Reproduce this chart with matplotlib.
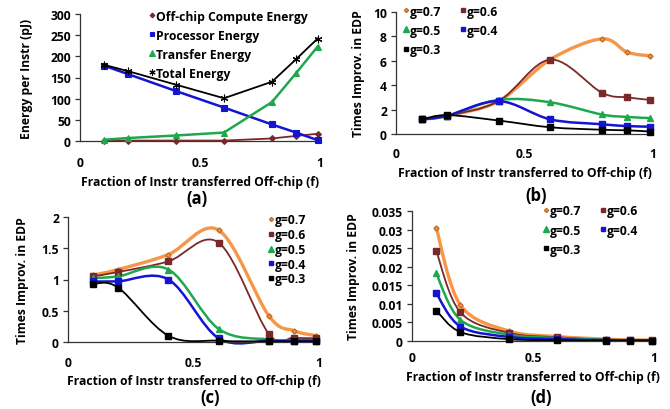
import matplotlib
matplotlib.use("Agg")
import matplotlib.pyplot as plt
from matplotlib.path import Path
from matplotlib.patches import PathPatch
from matplotlib.lines import Line2D

plt.rcParams["font.family"] = ["Open Sans", "DejaVu Sans"]
plt.rcParams["font.weight"] = "bold"

# ---- data -------------------------------------------------------------
f = [0.1, 0.2, 0.4, 0.6, 0.8, 0.9, 0.99]

# (a) energy per instruction (pJ)
offchip_compute = [1, 1, 1, 1, 6, 12, 17]
processor = [178, 158, 118, 79, 39, 20, 2]
transfer = [3, 7, 13, 20, 92, 160, 223]
total = [180, 165, 133, 101, 140, 193, 242]

g_labels = ["g=0.7", "g=0.6", "g=0.5", "g=0.4", "g=0.3"]

# (b) times improvement in EDP
edp_b = [
    [1.2, 1.5, 2.7, 6.1, 7.8, 6.7, 6.4],
    [1.2, 1.5, 2.7, 6.1, 3.4, 3.0, 2.8],
    [1.2, 1.5, 2.8, 2.6, 1.6, 1.4, 1.3],
    [1.2, 1.5, 2.7, 1.2, 0.8, 0.65, 0.6],
    [1.2, 1.55, 1.1, 0.55, 0.35, 0.3, 0.2],
]
# (c)
edp_c = [
    [1.07, 1.16, 1.40, 1.79, 0.42, 0.18, 0.10],
    [1.05, 1.12, 1.29, 1.59, 0.13, 0.07, 0.06],
    [1.02, 1.05, 1.16, 0.21, 0.04, 0.03, 0.03],
    [0.97, 0.97, 1.00, 0.06, 0.02, 0.02, 0.02],
    [0.93, 0.87, 0.10, 0.02, 0.01, 0.01, 0.01],
]
# (d)
edp_d = [
    [0.0305, 0.0097, 0.0027, 0.0012, 0.0005, 0.0003, 0.0003],
    [0.0243, 0.0077, 0.0022, 0.0010, 0.0004, 0.0003, 0.0002],
    [0.0182, 0.0057, 0.0017, 0.0008, 0.0003, 0.0002, 0.0002],
    [0.0129, 0.0039, 0.0011, 0.0005, 0.0002, 0.0002, 0.0001],
    [0.0082, 0.0024, 0.0005, 0.0002, 0.0001, 0.0001, 0.0001],
]

# ---- styles -----------------------------------------------------------
ORANGE = "#F79646"
BROWN = "#7A2828"
GREEN = "#1EA84E"
BLUE = "#1414D2"
BLACK = "#000000"
g_styles = [
    dict(color=ORANGE, marker="D", ms=2.6, lw=2.4, mec="#C0702A"),
    dict(color=BROWN, marker="s", ms=4.2, lw=1.3, mec=BROWN),
    dict(color=GREEN, marker="^", ms=4.6, lw=1.8, mec=GREEN),
    dict(color=BLUE, marker="s", ms=4.2, lw=1.8, mec=BLUE),
    dict(color=BLACK, marker="s", ms=4.2, lw=1.3, mec=BLACK),
]
FS = 8.7


def smooth(ax, x, y, color, lw):
    # Excel-like smoothed line: Catmull-Rom segments as cubic Beziers
    n = len(x)
    pts = list(zip(x, y))
    verts = [pts[0]]
    codes = [Path.MOVETO]
    for i in range(n - 1):
        p0 = pts[i - 1] if i > 0 else pts[i]
        p1, p2 = pts[i], pts[i + 1]
        p3 = pts[i + 2] if i + 2 < n else pts[i + 1]
        c1 = (p1[0] + (p2[0] - p0[0]) / 6, p1[1] + (p2[1] - p0[1]) / 6)
        c2 = (p2[0] - (p3[0] - p1[0]) / 6, p2[1] - (p3[1] - p1[1]) / 6)
        verts += [c1, c2, p2]
        codes += [Path.CURVE4] * 3
    ax.add_patch(PathPatch(Path(verts, codes), facecolor="none",
                           edgecolor=color, lw=lw, capstyle="round",
                           clip_on=False, zorder=2))


def style_axes(ax, ylim, yticks, xpad):
    ax.set_xlim(0, 1)
    ax.set_ylim(*ylim)
    ax.set_xticks([0, 0.5, 1])
    ax.set_xticklabels(["0", "0.5", "1"])
    ax.set_yticks(yticks)
    ax.set_yticklabels([f"{v:g}" for v in yticks])
    for s in ("top", "right"):
        ax.spines[s].set_visible(False)
    for s in ("left", "bottom"):
        ax.spines[s].set_color("#333333")
        ax.spines[s].set_linewidth(0.9)
    ax.tick_params(axis="x", length=0, pad=xpad, labelsize=FS)
    ax.tick_params(axis="y", length=3.5, width=0.9, color="#333333",
                   labelsize=FS, pad=3)
    for t in ax.get_xticklabels() + ax.get_yticklabels():
        t.set_fontweight("bold")


def g_legend(ax, ncol, anchor, colsp, lsp):
    handles = [Line2D([], [], ls="none", marker=s["marker"], color=s["color"],
                      mec=s["mec"], ms=s["ms"] * 0.8) for s in g_styles]
    labels = list(g_labels)
    if ncol == 2:
        # matplotlib fills columns first; reorder so rows read 0.7 0.6 / 0.5 0.4 / 0.3
        order = [0, 2, 4, 1, 3]
        handles = [handles[i] for i in order]
        labels = [labels[i] for i in order]
    ax.legend(handles, labels, ncol=ncol, loc="upper left",
              bbox_to_anchor=anchor, frameon=False,
              handlelength=0.4, handletextpad=0.1, labelspacing=lsp,
              columnspacing=colsp, borderpad=0, borderaxespad=0,
              prop=dict(weight="bold", size=FS))


W, H = 670, 410
fig = plt.figure(figsize=(6.7, 4.1), dpi=100)


def axes_px(x0, x1, ytop, ybot):
    return fig.add_axes([x0 / W, 1 - ybot / H, (x1 - x0) / W, (ybot - ytop) / H])


# ---- (a) ---------------------------------------------------------------
ax = axes_px(80, 320, 15, 142)
series_a = [
    (offchip_compute, BROWN, "D", 3, 1.3, "Off-chip Compute Energy"),
    (processor, BLUE, "s", 4.2, 1.8, "Processor Energy"),
    (transfer, GREEN, "^", 4.6, 1.8, "Transfer Energy"),
    (total, BLACK, (6, 2, 0), 5.5, 1.3, "Total Energy"),
]
for ys, col, mk, ms, lw, lab in series_a:
    ax.plot(f, ys, color=col, lw=lw, marker=mk, ms=ms, mec=col, mew=0.8,
            clip_on=False, zorder=3, label=lab)
style_axes(ax, (0, 300), [0, 50, 100, 150, 200, 250, 300], 11)
handles = [Line2D([], [], ls="none", marker=mk, color=col, mec=col, mew=0.8,
                  ms=ms * 0.8) for ys, col, mk, ms, lw, lab in series_a]
ax.legend(handles, [s[5] for s in series_a], loc="upper left",
          bbox_to_anchor=(0.29, 1.035), frameon=False, handlelength=0.4,
          handletextpad=0.1, labelspacing=0.5, borderpad=0, borderaxespad=0,
          prop=dict(weight="bold", size=FS))
ax.set_ylabel("Energy per Instr (pJ)", fontsize=FS, fontweight="bold")
ax.yaxis.set_label_coords(-0.196, 0.5)
ax.set_xlabel("Fraction of Instr transferred Off-chip (f)", fontsize=FS,
              fontweight="bold")
ax.xaxis.set_label_coords(0.5, -0.265)
fig.text(197 / W, 1 - 199 / H, "(a)", ha="center", va="center",
         fontsize=12, fontweight="bold")


def g_panel(x0, x1, ytop, ybot, data, ylim, yticks, xpad, leg, lx, ly, letter):
    ax = axes_px(x0, x1, ytop, ybot)
    for ys, s in zip(data, g_styles):
        smooth(ax, f, ys, s["color"], s["lw"])
        ax.plot(f, ys, ls="none", marker=s["marker"], ms=s["ms"],
                color=s["color"], mec=s["mec"], clip_on=False, zorder=3)
    style_axes(ax, ylim, yticks, xpad)
    g_legend(ax, *leg)
    ax.set_ylabel("Times Improv. in EDP", fontsize=FS, fontweight="bold")
    ax.yaxis.set_label_coords(lx, 0.5)
    ax.set_xlabel("Fraction of Instr transferred to Off-chip (f)",
                  fontsize=FS, fontweight="bold")
    ax.xaxis.set_label_coords(0.5, ly)
    fig.text(letter[0] / W, 1 - letter[1] / H, letter[2], ha="center",
             va="center", fontsize=12, fontweight="bold")


g_panel(396, 653, 13, 135, edp_b, (0, 10), [0, 2, 4, 6, 8, 10],
        9.5, (2, (0.03, 1.06), 1.6, 0.5), -0.12, -0.262, (536, 196, "(b)"))
g_panel(68, 319, 218, 343, edp_c, (0, 2), [0, 0.5, 1, 1.5, 2],
        10.4, (1, (0.8, 1.03), 1.0, 0.15), -0.155, -0.256, (210, 398, "(c)"))
g_panel(412, 654, 212, 342, edp_d, (0, 0.035),
        [0, 0.005, 0.01, 0.015, 0.02, 0.025, 0.03, 0.035],
        7.5, (2, (0.545, 1.05), 1.6, 0.5), -0.215, -0.223, (541, 398, "(d)"))

fig.savefig("out.png", dpi=100, facecolor="white")
